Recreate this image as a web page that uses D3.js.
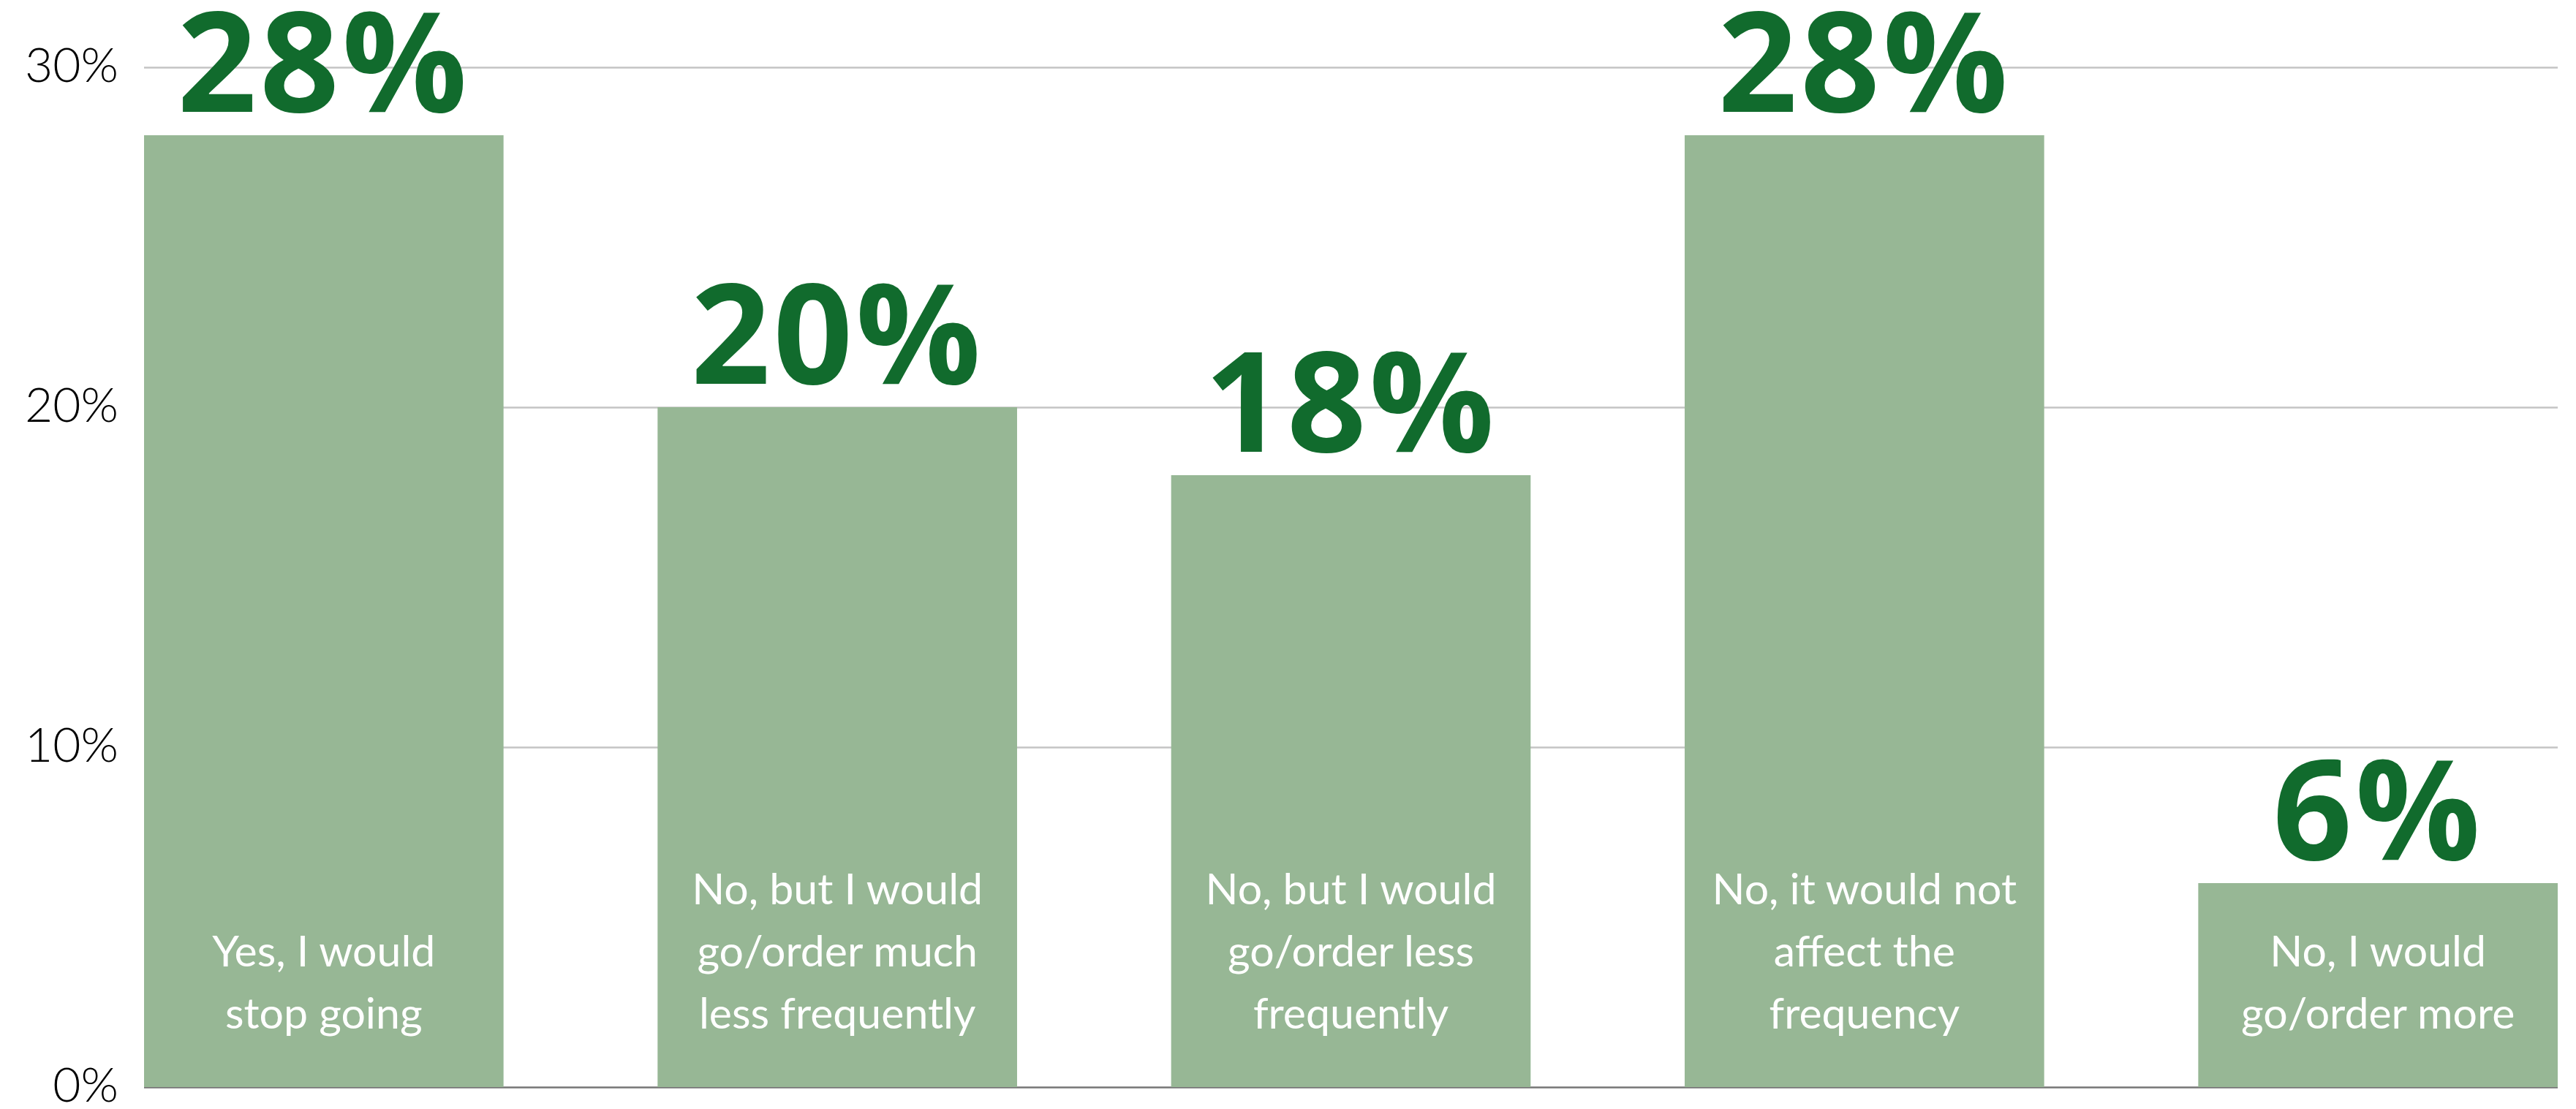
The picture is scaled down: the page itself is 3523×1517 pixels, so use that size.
<!DOCTYPE html>
<html>
<head>
<meta charset="utf-8">
<script src="https://cdn.jsdelivr.net/npm/d3@7"></script>
<style>
  body { margin: 0; background: #fff; }
  svg { display: block; }
</style>
</head>
<body>
<svg></svg>
<script>
// chart data
const categories = ["stop", "muchLess", "less", "same", "more"];
const categoryLines = [
  ["Yes, I would", "stop going"],
  ["No, but I would", "go/order much", "less frequently"],
  ["No, but I would", "go/order less", "frequently"],
  ["No, it would not", "affect the", "frequency"],
  ["No, I would", "go/order more"],
];
const values = [0.28, 0.2, 0.18, 0.28, 0.06];
const yTicks = [0, 0.1, 0.2, 0.3];

const width = 3523;
const height = 1517;

const svg = d3.select("svg").attr("width", width).attr("height", height);

const margin = { left: 197, right: 25, top: 92, bottom: 30 };
const graphWidth = width - margin.left - margin.right;
const graphHeight = height - margin.top - margin.bottom;

const g = svg.append("g")
  .attr("transform", `translate(${margin.left}, ${margin.top})`);

const xScale = d3.scaleBand()
  .domain(categories)
  .range([0, graphWidth])
  .paddingInner(0.3)
  .paddingOuter(0);

const yScale = d3.scaleLinear().domain([0, 0.3]).range([graphHeight, 0]);

// y axis with gridlines
const yAxis = d3.axisLeft(yScale)
  .tickValues(yTicks)
  .tickFormat(d3.format(".0%"))
  .tickSize(-graphWidth)
  .tickPadding(35);

const yAxisG = g.append("g").call(yAxis);
yAxisG.select(".domain").remove();
yAxisG.selectAll(".tick line")
  .attr("stroke", (d) => (d === 0 ? "#767676" : "#c4c4c4"))
  .attr("stroke-width", 2.5);
yAxisG.selectAll(".tick text")
  .attr("fill", "#000")
  .attr("dy", "0.3em")
  .style("font-family", "Lato, sans-serif")
  .style("font-weight", 300)
  .style("font-size", "66px");

// bars
g.selectAll("rect.bar")
  .data(values)
  .join("rect")
  .attr("class", "bar")
  .attr("x", (d, i) => xScale(categories[i]))
  .attr("y", (d) => yScale(d))
  .attr("width", xScale.bandwidth())
  .attr("height", (d) => graphHeight - yScale(d))
  .attr("fill", "#97b795");

// value labels above the bars
g.selectAll("text.value")
  .data(values)
  .join("text")
  .attr("class", "value")
  .attr("x", (d, i) => xScale(categories[i]) + xScale.bandwidth() / 2)
  .attr("y", (d) => yScale(d) - 32)
  .attr("text-anchor", "middle")
  .attr("fill", "#116b2d")
  .style("font-family", "'Open Sans', sans-serif")
  .style("font-weight", 700)
  .style("font-size", "190px")
  .style("letter-spacing", "4px")
  .text((d) => d3.format(".0%")(d));

// category labels inside the bars, bottom aligned
const lineHeight = 85;
const labelG = g.selectAll("text.cat")
  .data(categoryLines)
  .join("text")
  .attr("class", "cat")
  .attr("text-anchor", "middle")
  .attr("fill", "#fff")
  .style("font-family", "Lato, sans-serif")
  .style("font-size", "59px");

labelG.each(function (lines, i) {
  const cx = xScale(categories[i]) + xScale.bandwidth() / 2;
  d3.select(this)
    .selectAll("tspan")
    .data(lines)
    .join("tspan")
    .attr("x", cx)
    .attr("y", (d, j) => graphHeight - 80 - (lines.length - 1 - j) * lineHeight)
    .text((d) => d);
});
</script>
</body>
</html>
